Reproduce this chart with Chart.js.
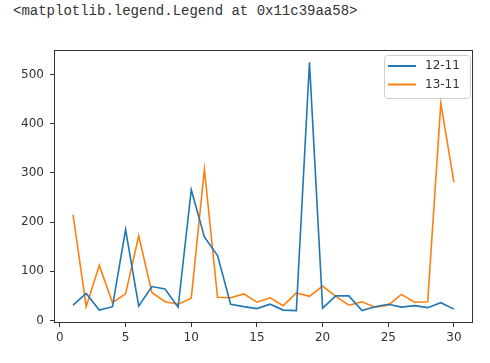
<!DOCTYPE html>
<html>
<head>
<meta charset="utf-8">
<script src="https://cdn.jsdelivr.net/npm/chart.js@4/dist/chart.umd.min.js"></script>
<style>
  body { margin: 0; background: #fff; }
  #wrap { position: relative; width: 490px; height: 363px; }
  #out { position: absolute; left: 13px; top: 3px; font: 14px "Liberation Mono", "DejaVu Sans Mono", monospace; color: #333; white-space: pre; }
  canvas { position: absolute; left: 0; top: 0; }
</style>
</head>
<body>
<div id="wrap">
  <div id="out">&lt;matplotlib.legend.Legend at 0x11c39aa58&gt;</div>
  <canvas id="chart" width="490" height="363"></canvas>
</div>
<script>
// day of month
const days = [1,2,3,4,5,6,7,8,9,10,11,12,13,14,15,16,17,18,19,20,21,22,23,24,25,26,27,28,29,30];
// series values
const s1211 = [31,55,21,28,185,29,69,64,27,266,170,132,33,28,24,33,21,20,525,25,50,50,20,28,33,27,30,26,36,23];
const s1311 = [215,28,112,36,54,172,57,38,33,45,308,47,46,54,37,46,30,56,49,70,49,31,38,27,31,53,37,38,442,281];
const seriesNames = ['12-11', '13-11'];
const seriesColors = ['#1f77b4', '#ff7f0e'];
const xTicks = [0,5,10,15,20,25,30];
const yTicks = [0,100,200,300,400,500];

// matplotlib style 5% margins
const allVals = s1211.concat(s1311);
const yLo = Math.min(...allVals), yHi = Math.max(...allVals);
const yPad = (yHi - yLo) * 0.05;
const xPad = (days[days.length-1] - days[0]) * 0.05;

function toPoints(vals){
    return days.map((d, i) => ({x: d, y: vals[i]}));
}

const frame = {
    id: 'frame',
    afterDraw(chart){
        const a = chart.chartArea, ctx = chart.ctx;
        ctx.save();
        ctx.strokeStyle = '#333';
        ctx.lineWidth = 1;
        ctx.strokeRect(Math.round(a.left)+0.5, Math.round(a.top)+0.5, Math.round(a.right-a.left)-1, Math.round(a.bottom-a.top)-1);
        // legend box, upper right
        const w = 86, h = 43;
        const x0 = a.right - 3 - w, y0 = a.top + 5;
        ctx.fillStyle = 'rgba(255,255,255,0.8)';
        ctx.strokeStyle = '#d0d0d0';
        ctx.beginPath();
        ctx.roundRect(x0+0.5, y0+0.5, w, h, 3);
        ctx.fill();
        ctx.stroke();
        ctx.font = '12px "DejaVu Sans"';
        ctx.textBaseline = 'middle';
        chart.data.datasets.forEach((ds, i) => {
            const yy = y0 + 11 + i*18.5;
            ctx.strokeStyle = ds.borderColor;
            ctx.lineWidth = 2;
            ctx.beginPath();
            ctx.moveTo(x0+4, yy);
            ctx.lineTo(x0+32, yy);
            ctx.stroke();
            ctx.fillStyle = '#333';
            ctx.fillText(ds.label, x0+41, yy);
        });
        ctx.restore();
    }
};

new Chart(document.getElementById('chart').getContext('2d'), {
    type: 'line',
    data: {
        datasets: [0,1].map(i => ({
            label: seriesNames[i],
            data: toPoints(i === 0 ? s1211 : s1311),
            borderColor: seriesColors[i],
            backgroundColor: seriesColors[i],
            borderWidth: 1.6,
            pointRadius: 0,
            tension: 0,
            fill: false
        }))
    },
    options: {
        responsive: false,
        animation: false,
        layout: { padding: { top: 50, right: 17, left: 0, bottom: 0 } },
        plugins: { legend: { display: false }, tooltip: { enabled: false } },
        scales: {
            x: {
                type: 'linear',
                min: days[0] - xPad,
                max: days[days.length-1] + xPad,
                afterBuildTicks: (s) => { s.ticks = xTicks.map(v => ({value: v})); },
                afterFit: (s) => { s.height = 40; },
                grid: { drawOnChartArea: false, tickLength: 4, tickColor: '#333' },
                border: { display: false },
                ticks: { padding: 4, color: '#333', font: { family: 'DejaVu Sans', size: 12 }, maxRotation: 0 }
            },
            y: {
                min: yLo - yPad,
                max: yHi + yPad,
                afterBuildTicks: (s) => { s.ticks = yTicks.map(v => ({value: v})); },
                afterFit: (s) => { s.width = 54; },
                grid: { drawOnChartArea: false, tickLength: 4, tickColor: '#333' },
                border: { display: false },
                ticks: { padding: 6, color: '#333', font: { family: 'DejaVu Sans', size: 12 } }
            }
        }
    },
    plugins: [frame]
});
</script>
</body>
</html>
